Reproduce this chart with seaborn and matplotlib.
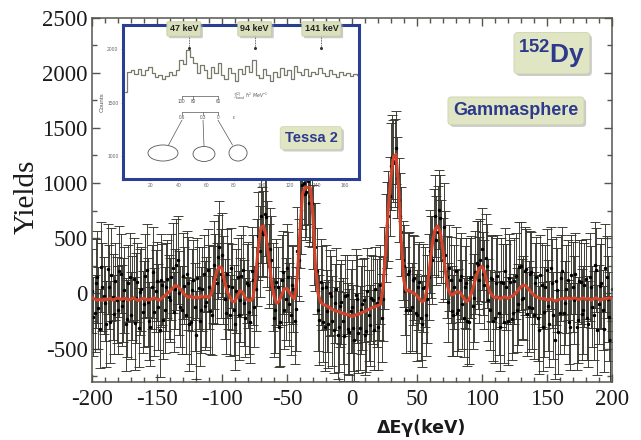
import numpy as np
import seaborn as sns
import matplotlib.pyplot as plt
import matplotlib.patheffects as pe
from matplotlib.patches import Ellipse
from matplotlib.ticker import MultipleLocator

# %%
# gamma-gamma energy difference spectrum, 1 keV bins (even / odd keV kept apart)
de_even = np.arange(-200, 201, 2)
de_odd = np.arange(-199, 200, 2)

yields_even = [
    20, -180, 150, -320, 60, -90, 220, -260, -30, 110,
    -150, 180, -60, -280, 90, -200, 130, -40, -310, 40,
    -100, 210, -250, 60, -170, 110, -330, 80, -150, 130,
    -60, 230, 40, 300, -120, 160, -200, 90, -260, 120,
    -380, 50, -150, 180, -80, 60, -200, 260, 90, 420,
    350, -50, 180, -200, 60, -280, 150, -60, 210, -220,
    80, -260, 120, 40, 520, 700, 540, 690, 250, 300,
    -220, 100, -300, 120, -150, 230, -100, 80, -250, 380,
    640, 980, 900, 1020, 880, 600, 420, -150, 100, -260,
    60, -280, -20, -330, 40, -300, -80, -390, -10, -350,
    -120, -420, -50, -310, -100, -380, 20, -290, -60, 40,
    -300, 80, -50, 500, 700, 1150, 1200, 1320, 850, 560,
    250, -150, 200, -120, 140, -200, 100, -280, 60, -50,
    380, 300, 700, 560, 680, 300, 350, -80, 120, -200,
    200, -150, 160, -220, 90, -260, 150, -40, 280, 120,
    400, 80, 250, -150, 130, -220, 160, -300, 90, 200,
    -250, 100, -180, 160, -100, 250, -40, 220, -120, 190,
    -200, 150, -330, 80, -170, 210, -280, 90, -420, 30,
    -180, 200, -90, 120, -300, 60, 180, -240, 100, -150,
    130, -280, 60, -200, 210, -100, 90, -320, 150, -210,
    40,
]
errors_even = [
    380, 350, 420, 360, 400, 340, 410, 370, 390, 350,
    400, 360, 380, 420, 350, 390, 370, 410, 360, 380,
    390, 420, 350, 380, 400, 360, 430, 370, 390, 350,
    380, 410, 360, 400, 370, 390, 350, 420, 380, 360,
    400, 370, 390, 350, 410, 380, 360, 400, 370, 420,
    380, 360, 400, 370, 390, 410, 350, 380, 400, 360,
    390, 370, 410, 380, 400, 420, 390, 410, 380, 400,
    360, 390, 370, 410, 350, 400, 380, 360, 390, 400,
    410, 400, 420, 390, 410, 380, 400, 370, 390, 360,
    380, 400, 360, 390, 370, 410, 380, 400, 360, 390,
    420, 370, 400, 380, 410, 360, 390, 370, 400, 380,
    390, 360, 380, 400, 410, 390, 370, 330, 380, 400,
    370, 390, 360, 400, 380, 410, 370, 390, 360, 400,
    380, 400, 370, 410, 390, 380, 400, 360, 390, 370,
    400, 370, 390, 360, 410, 380, 370, 400, 380, 390,
    370, 400, 380, 360, 390, 410, 370, 400, 360, 390,
    400, 380, 360, 390, 370, 400, 380, 360, 410, 370,
    390, 360, 400, 380, 410, 370, 390, 400, 360, 380,
    370, 400, 380, 360, 390, 410, 370, 390, 380, 400,
    360, 390, 370, 400, 380, 360, 410, 390, 370, 400,
    380,
]

yields_odd = [
    -210, 90, -130, 240, -20, -280, 60, 170, -190, -60,
    200, -110, 30, -230, 150, -40, -270, 100, 10, -170,
    160, -80, -300, 190, 20, -120, 120, -240, 60, -30,
    150, -170, 260, 0, -150, 70, 180, -280, 30, -120,
    140, -250, 40, -110, 210, -160, 80, 130, 330, 180,
    120, -180, 70, 230, -150, 20, -200, 160, -90, 90,
    -170, 200, -120, 280, 380, 560, 720, 450, 400, 60,
    -150, 60, -260, 190, -50, 150, -200, 40, -140, 300,
    760, 1000, 920, 820, 820, 450, 200, -240, 50, -300,
    -160, 0, -250, -90, -380, -110, -250, -20, -320, -160,
    -310, -10, -360, -150, -60, -340, -200, -40, -330, -90,
    -40, -220, 230, 620, 880, 1240, 1180, 1050, 700, 300,
    20, 180, -150, 120, -180, 60, -220, 50, -200, 150,
    330, 560, 480, 760, 470, 600, 150, 230, -160, 60,
    -180, 120, -100, 60, -250, 140, -110, 190, 260, 300,
    180, 320, -60, 140, -250, 90, -180, 100, -260, 60,
    140, -230, 110, -150, 240, -50, 200, -190, 180, -130,
    90, -220, 170, -300, 60, -110, 230, -200, 110, -350,
    140, -180, 40, -260, 170, -60, -300, 110, -190, 80,
    -220, 150, -120, 260, -330, 70, -150, 230, -50, -420,
]
errors_odd = [
    360, 400, 370, 410, 350, 390, 380, 420, 360, 390,
    410, 370, 390, 350, 400, 380, 420, 360, 390, 370,
    380, 400, 360, 410, 370, 390, 420, 350, 400, 380,
    390, 360, 410, 380, 400, 350, 390, 420, 370, 400,
    360, 410, 380, 400, 370, 390, 350, 410, 380, 400,
    400, 370, 390, 360, 410, 380, 400, 370, 390, 360,
    380, 400, 370, 390, 410, 400, 380, 390, 370, 400,
    390, 360, 400, 380, 370, 410, 360, 390, 380, 370,
    400, 380, 410, 390, 400, 370, 390, 410, 380, 400,
    370, 390, 410, 360, 400, 380, 390, 370, 410, 380,
    390, 410, 360, 400, 380, 370, 410, 390, 360, 400,
    380, 400, 370, 390, 360, 380, 400, 370, 390, 360,
    400, 370, 390, 410, 360, 390, 380, 400, 370, 390,
    370, 390, 400, 360, 380, 400, 370, 390, 410, 380,
    390, 380, 400, 370, 410, 360, 390, 380, 400, 370,
    380, 400, 370, 390, 360, 410, 380, 400, 370, 390,
    400, 370, 390, 380, 410, 360, 400, 380, 390, 370,
    370, 390, 360, 400, 380, 410, 370, 390, 400, 380,
    390, 370, 400, 380, 360, 400, 390, 370, 410, 380,
    380, 400, 370, 390, 410, 380, 360, 400, 390, 400,
]

# fitted curve, on the 2 keV grid
fit = [
    -40, -50, -60, -55, -65, -50, -55, -45, -60, -50,
    -40, -55, -50, -45, -60, -50, -40, -55, -65, -50,
    -45, -55, -60, -50, -40, -55, -60, -40, -20, 0,
    20, 45, 70, 65, 40, 10, -20, -35, -25, -40,
    -30, -45, -20, -35, -25, -40, 0, 100, 200, 240,
    230, 110, 20, -30, -70, -75, -20, 25, 10, -40,
    -60, -65, -40, 150, 420, 600, 610, 520, 330, 120,
    -20, -90, -70, -10, 40, 45, 10, -30, -45, 150,
    550, 900, 960, 960, 960, 700, 250, 0, -80, -100,
    -110, -120, -140, -150, -160, -165, -175, -185, -190, -195,
    -210, -200, -190, -185, -170, -165, -150, -140, -125, -120,
    -110, -100, 50, 380, 760, 1050, 1240, 1260, 950, 480,
    120, 20, 30, 10, 0, -20, -50, -75, -60, 50,
    250, 450, 580, 610, 560, 400, 200, 50, -15, -10,
    10, 15, 0, -40, -75, -60, 0, 80, 170, 230,
    245, 200, 100, 20, -20, -40, -30, -50, -40, -30,
    -45, -30, -20, 0, 30, 60, 75, 70, 40, 10,
    -15, -30, -40, -50, -45, -60, -55, -50, -70, -60,
    -55, -45, -50, -40, -50, -45, -40, -55, -50, -40,
    -55, -45, -60, -50, -40, -55, -60, -45, -50, -40,
    -45,
]

# old Tessa 2 spectrum (inset)
tessa_e = np.arange(2, 170, 2.5)
tessa_counts = [
    1600, 1790, 1800, 1770, 1810, 1760, 1800, 1830, 1780, 1740,
    1760, 1720, 1750, 1790, 1760, 1800, 1900, 1860, 1990, 1930,
    1870, 1780, 1850, 1800, 1730, 1830, 1780, 1870, 1760, 1720,
    1820, 1780, 1700, 1810, 1770, 1840, 1790, 1900, 1760, 1730,
    1810, 1760, 1700, 1790, 1740, 1820, 1760, 1800, 1720, 1840,
    1790, 1760, 1810, 1750, 1790, 1770, 1820, 1780, 1750, 1800,
    1770, 1740, 1790, 1760, 1780, 1750, 1770, 1760,
]
tessa_lines = ['47 keV', '94 keV', '141 keV']
tessa_box_e = [44, 95, 143]
tessa_arrow_e = [48, 95.5, 143]

navy = '#2d3a8c'
box_green = '#e0e6c4'

# %%
sns.set_theme(style='ticks')
plt.rcParams['font.family'] = ['Liberation Serif', 'DejaVu Sans']
plt.rcParams['axes.unicode_minus'] = False
plt.rcParams['mathtext.fontset'] = 'custom'
plt.rcParams['mathtext.bf'] = 'Liberation Sans:bold'
plt.rcParams['mathtext.rm'] = 'Liberation Sans'

fig = plt.figure(figsize=(6.41, 4.40), dpi=100)
fig.patch.set_facecolor('white')
ax = fig.add_axes([0.1435, 0.1325, 0.8108, 0.8277])
ax.set_facecolor('white')

for xs, ys, es in [(de_even, yields_even, errors_even), (de_odd, yields_odd, errors_odd)]:
    ax.errorbar(xs, ys, yerr=es, fmt='o', ms=1.5, color='black',
                ecolor='#33332a', elinewidth=0.65, capsize=3.8, capthick=0.65, zorder=2)
sns.lineplot(x=de_even, y=fit, ax=ax, color='#d2452c', lw=2.2, zorder=3)

ax.set_xlim(-200, 200)
ax.set_ylim(-800, 2500)
ax.xaxis.set_major_locator(MultipleLocator(50))
ax.xaxis.set_minor_locator(MultipleLocator(10))
ax.yaxis.set_major_locator(MultipleLocator(500))
ax.yaxis.set_minor_locator(MultipleLocator(250))
ax.tick_params(which='both', direction='in', top=True, right=True,
               color='#555550', labelsize=16.5, labelcolor='#1a1a1a')
ax.tick_params(which='major', length=6, width=1)
ax.tick_params(which='minor', length=3.5, width=1)
ax.tick_params(axis='x', pad=5)
ax.tick_params(axis='y', pad=3)
for sp in ax.spines.values():
    sp.set_color('#555550')
    sp.set_linewidth(1.1)

fig.text(0.042, 0.552, 'Yields', rotation=90, ha='center', va='center',
         fontsize=21, color='#1a1a1a')
fig.text(0.658, 0.027, 'ΔEγ(keV)', ha='center', va='center', fontsize=12.5,
         fontweight='bold', family=['DejaVu Sans'], color='#1a1a1a')

shadow = [pe.withSimplePatchShadow(offset=(1.5, -1.5), shadow_rgbFace='#999999', alpha=0.5)]

t = fig.text(0.805, 0.748, 'Gammasphere', ha='center', va='center', fontsize=13,
             fontweight='bold', family=['Liberation Sans', 'DejaVu Sans'], color=navy,
             bbox=dict(boxstyle='round,pad=0.3,rounding_size=0.2', fc=box_green, ec='#cdd3ad', lw=0.6))
t.get_bbox_patch().set_path_effects(shadow)

t = fig.text(0.861, 0.879, r'$^{\mathbf{152}}\mathbf{Dy}$', ha='center', va='center',
             fontsize=19, color=navy,
             bbox=dict(boxstyle='round,pad=0.16,rounding_size=0.15', fc=box_green, ec='#cdd3ad', lw=0.6))
t.get_bbox_patch().set_path_effects(shadow)

# %%
# inset: earlier Tessa 2 spectrum
ax_in = fig.add_axes([0.1914, 0.5932, 0.3686, 0.35], zorder=5)
ax_in.set_facecolor('white')
sns.lineplot(x=tessa_e, y=tessa_counts, ax=ax_in, color='#7a7a6a', lw=0.9,
             drawstyle='steps-mid')
ax_in.set_xlim(0, 170)
ax_in.set_ylim(785, 2225)
ax_in.set_xticks([20, 40, 60, 80, 100, 120, 140, 160])
ax_in.set_yticks([1000, 1500, 2000])
ax_in.tick_params(labelsize=3.6, labelcolor='#666666', length=1.5, width=0.4,
                  color='#888888', pad=1.5)
ax_in.set_xlabel('')
ax_in.set_ylabel('Counts', fontsize=4.5, color='#555555', labelpad=2,
                 family=['Liberation Sans', 'DejaVu Sans'])
for lab in ax_in.get_xticklabels() + ax_in.get_yticklabels():
    lab.set_family(['Liberation Sans', 'DejaVu Sans'])
for sp in ax_in.spines.values():
    sp.set_color('#2b3f92')
    sp.set_linewidth(2.2)

for lab, xb, xa in zip(tessa_lines, tessa_box_e, tessa_arrow_e):
    t = ax_in.text(xb, 2188, lab, ha='center', va='center', fontsize=6.5, fontweight='bold',
                   family=['Liberation Sans', 'DejaVu Sans'], color='#222222',
                   bbox=dict(boxstyle='round,pad=0.3,rounding_size=0.15', fc='#d9e0bb',
                             ec='#bfc79e', lw=0.5))
    t.get_bbox_patch().set_path_effects(shadow)
    ax_in.plot([xa, xa], [2125, 2010], ls=(0, (1, 1)), color='#333333', lw=0.6)
    ax_in.plot([xa], [2010], 'o', ms=1.2, color='#333333')

# level scheme sketch
sk = dict(color='#555555', lw=0.5)
small = dict(fontsize=3.3, color='#555555', ha='center', va='center',
             family=['Liberation Sans', 'DejaVu Sans'])
ax_in.plot([42.6, 68.6], [1561, 1561], **sk)
for xv in [42.6, 50.6, 68.6]:
    ax_in.plot([xv, xv], [1561, 1535], **sk)
for xv, lab in zip([42.6, 50.6, 68.6], ['100', '80', '60']):
    ax_in.text(xv, 1510, lab, **small)
ax_in.text(79.5, 1561, r'$\mathcal{J}^{(2)}_{band}\ \hbar^2\ MeV^{-1}$', fontsize=3.3,
           color='#555555', ha='left', va='center')
ax_in.plot([42.6, 68.6], [1411, 1411], **sk)
for xv in [42.6, 57.8, 68.6]:
    ax_in.plot([xv, xv], [1411, 1385], **sk)
for xv, lab in zip([42.6, 57.8, 68.6], ['0.6', '0.3', '0']):
    ax_in.text(xv, 1357, lab, **small)
ax_in.text(80, 1357, 'ε', **small)
ax_in.plot([42.6, 33], [1335, 1103], **sk)
ax_in.plot([57.8, 58.5], [1335, 1090], **sk)
ax_in.plot([68.6, 79], [1335, 1103], **sk)
for cx, cy, w, h in [(29, 1028, 21.6, 150), (58.5, 1019, 15.8, 140), (83, 1028, 13, 150)]:
    ax_in.add_patch(Ellipse((cx, cy), w, h, fill=False, ec='#555555', lw=0.6))

t = ax_in.text(135.5, 1168, 'Tessa 2', ha='center', va='center', fontsize=10.5,
               fontweight='bold', family=['Liberation Sans', 'DejaVu Sans'], color=navy,
               bbox=dict(boxstyle='round,pad=0.3,rounding_size=0.2', fc=box_green,
                         ec='#cdd3ad', lw=0.5))
t.get_bbox_patch().set_path_effects(shadow)

fig.savefig('out.png', dpi=100)
